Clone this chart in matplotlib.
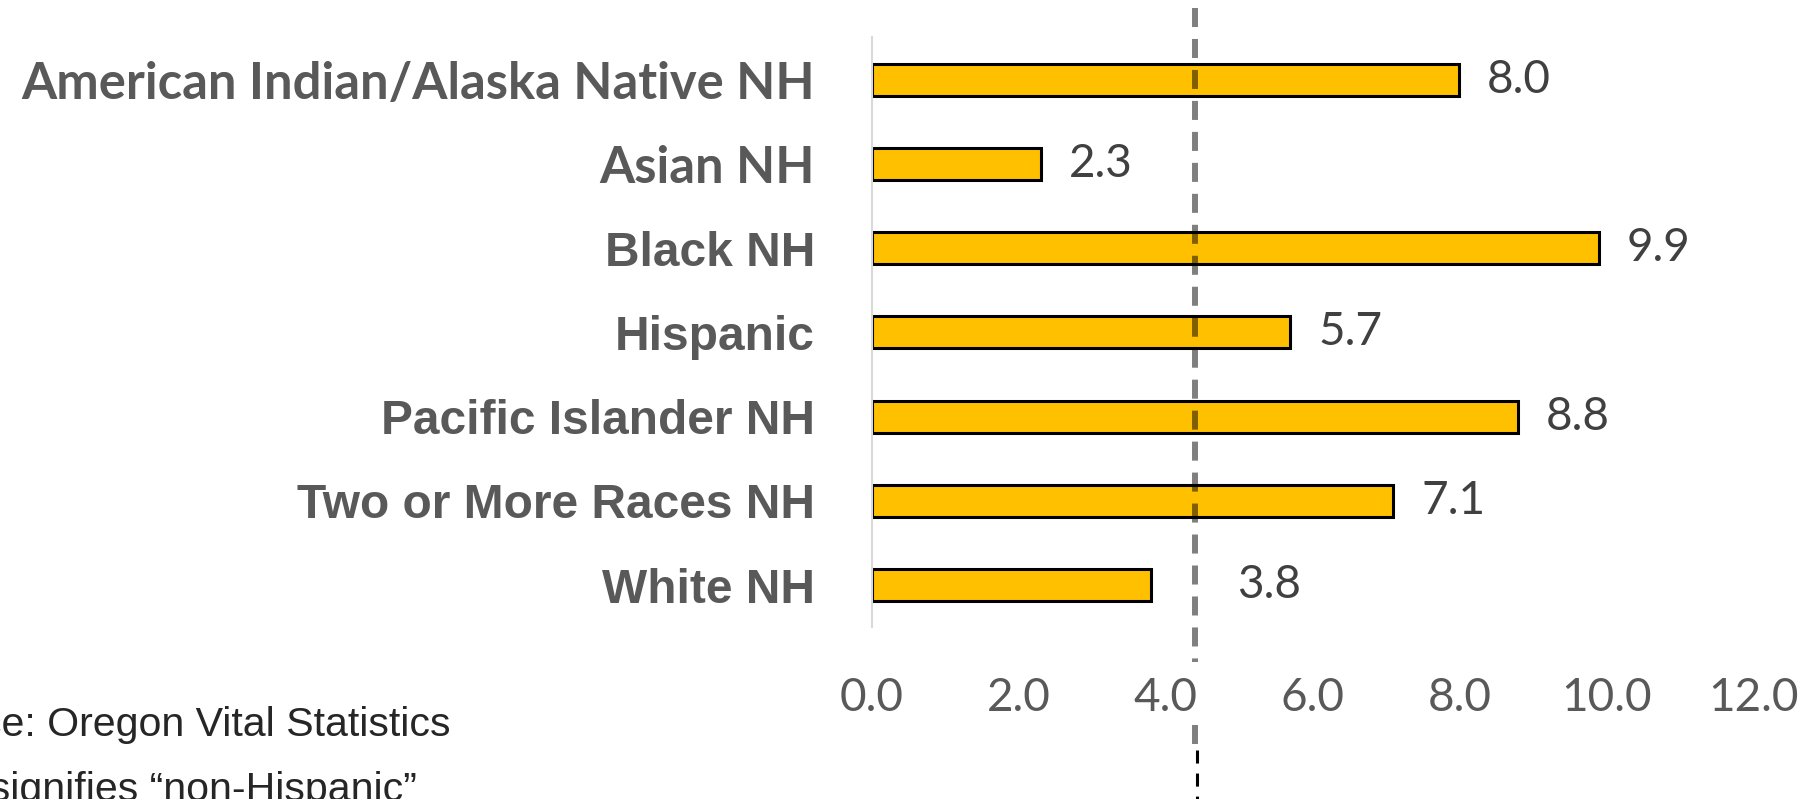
import matplotlib
matplotlib.use("Agg")
from matplotlib import pyplot as plt

# data
groups = [
    "American Indian/Alaska Native NH",
    "Asian NH",
    "Black NH",
    "Hispanic",
    "Pacific Islander NH",
    "Two or More Races NH",
    "White NH",
]
rates = [8.0, 2.3, 9.9, 5.7, 8.8, 7.1, 3.8]
state_rate = 4.4
x_ticks = [0, 2, 4, 6, 8, 10, 12]
source_note = "Source: Oregon Vital Statistics"
nh_note = "NH signifies \u201cnon-Hispanic\u201d"

# the first two labels use a narrower (Calibri-like) face in the original
narrow_labels = {"American Indian/Alaska Native NH", "Asian NH"}
# White NH value label is pushed right of the dashed line in the original
extra_nudge = {"White NH": 42}

plt.rcParams["lines.scale_dashes"] = False

W, H = 1803, 799
fig = plt.figure(figsize=(W / 100, H / 100), dpi=100)
ax_left, ax_right = 872, 1753
ax_top, ax_bottom = 37.4, 627.4
ax = fig.add_axes([ax_left / W, 1 - ax_bottom / H,
                   (ax_right - ax_left) / W, (ax_bottom - ax_top) / H])

ypos = list(range(len(groups)))
ax.barh(ypos, rates, height=0.38, color="#FFC000", edgecolor="black",
        linewidth=2.2, zorder=2)

ax.set_xlim(0, 12)
ax.set_ylim(len(groups) - 0.5, -0.5)

for s in ["top", "right", "bottom"]:
    ax.spines[s].set_visible(False)
ax.spines["left"].set_color("#d9d9d9")
ax.spines["left"].set_linewidth(1.5)

ax.set_xticks(x_ticks)
ax.set_xticklabels([f"{v:.1f}" for v in x_ticks], family="Lato",
                   fontsize=33, color="#595959")
ax.tick_params(axis="x", length=0, pad=36)

ax.set_yticks(ypos)
ax.set_yticklabels(groups, fontsize=34.5, fontweight="bold", color="#595959")
for lbl in ax.get_yticklabels():
    if lbl.get_text() in narrow_labels:
        lbl.set_family("Lato")
        lbl.set_fontsize(36.5)
    else:
        lbl.set_family("Liberation Sans")
ax.tick_params(axis="y", length=0, pad=41)

# value labels
for y, v, g in zip(ypos, rates, groups):
    ax.annotate(f"{v:.1f}", (v, y), xytext=(20 + extra_nudge.get(g, 0), 0),
                textcoords="offset points", va="center", ha="left",
                family="Lato", fontsize=33, color="#404040")

# state rate reference line (gray in chart, black below it)
def frac(ypix):
    return (ax_bottom - ypix) / (ax_bottom - ax_top)

ax.axvline(state_rate, frac(8), frac(662), color="black", alpha=0.5,
           linewidth=4.3, linestyle=(0, (13.7, 8.6)), clip_on=False, zorder=3)
ax.axvline(state_rate, frac(728), frac(741), color="black", alpha=0.5,
           linewidth=4.3, clip_on=False, zorder=3)
ax.axvline(state_rate + 0.03, frac(750), frac(805), color="black",
           linewidth=2.2, linestyle=(0, (9.4, 7.2)), clip_on=False, zorder=3)

# footnotes (cut off at the figure edge as in the reference)
fig.text(451 / W, 1 - 736 / H, source_note, ha="right", va="baseline",
         family="Liberation Sans", fontsize=29.6, color="#262626")
fig.text(417 / W, 1 - 801 / H, nh_note, ha="right", va="baseline",
         family="Liberation Sans", fontsize=29.6, color="#262626")

fig.savefig("out.png", dpi=100)
